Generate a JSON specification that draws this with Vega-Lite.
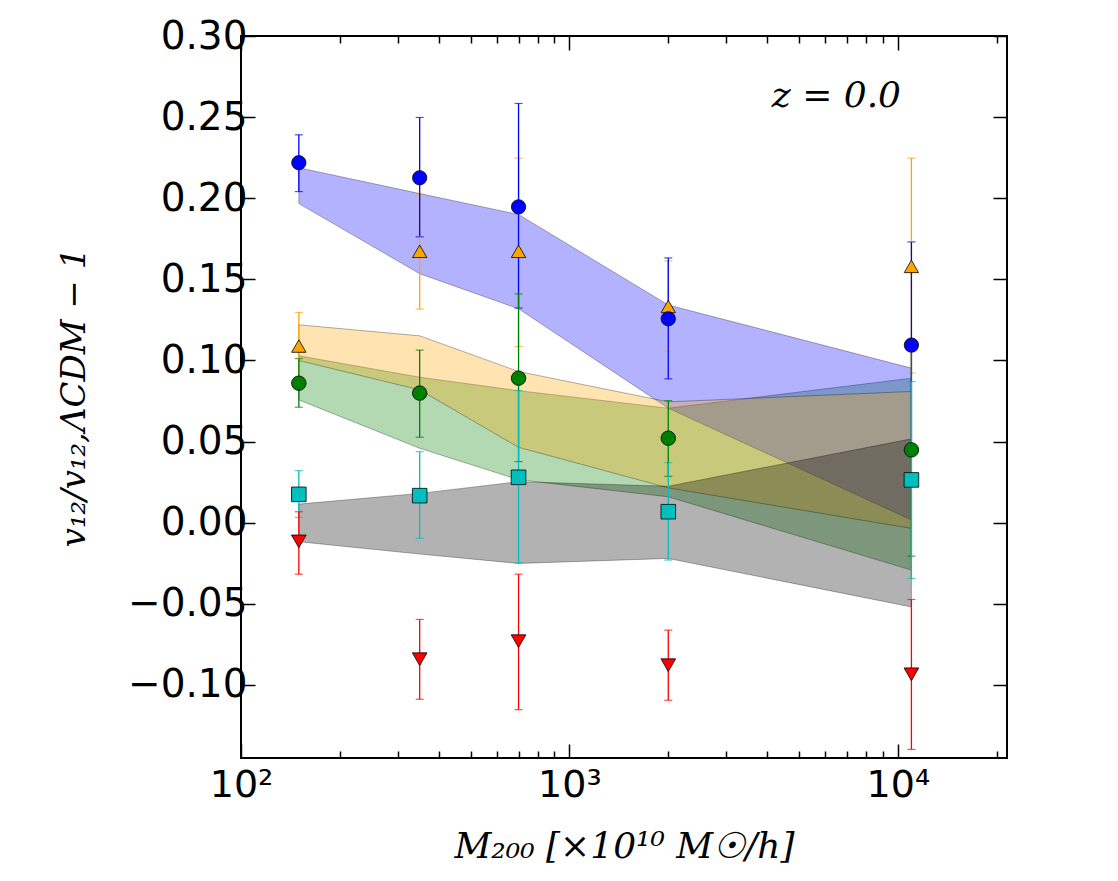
{
  "$schema": "https://vega.github.io/schema/vega-lite/v6.json",
  "width": 766,
  "height": 722,
  "autosize": {"type": "none"},
  "padding": {"left": 241, "top": 36, "right": 111, "bottom": 123},
  "background": "white",
  "config": {
    "view": {"stroke": "black", "strokeWidth": 2},
    "axis": {"grid": false, "domain": false, "tickColor": "black", "tickWidth": 1.5, "labelColor": "black", "titleColor": "black"}
  },
  "datasets": {
    "bands": [
      {"band": "green", "m": 150, "lo": 0.0757, "hi": 0.1029},
      {"band": "green", "m": 350, "lo": 0.0459, "hi": 0.0897},
      {"band": "green", "m": 700, "lo": 0.0265, "hi": 0.0814},
      {"band": "green", "m": 2000, "lo": 0.0160, "hi": 0.0706},
      {"band": "green", "m": 11000, "lo": -0.0292, "hi": 0.0891},
      {"band": "blue", "m": 150, "lo": 0.1967, "hi": 0.2188},
      {"band": "blue", "m": 350, "lo": 0.1535, "hi": 0.2029},
      {"band": "blue", "m": 700, "lo": 0.1319, "hi": 0.1900},
      {"band": "blue", "m": 2000, "lo": 0.0706, "hi": 0.1342},
      {"band": "blue", "m": 11000, "lo": 0.0017, "hi": 0.0953},
      {"band": "orange", "m": 150, "lo": 0.1000, "hi": 0.1220},
      {"band": "orange", "m": 350, "lo": 0.0819, "hi": 0.1152},
      {"band": "orange", "m": 700, "lo": 0.0465, "hi": 0.0932},
      {"band": "orange", "m": 2000, "lo": 0.0215, "hi": 0.0745},
      {"band": "orange", "m": 11000, "lo": -0.0035, "hi": 0.0809},
      {"band": "gray", "m": 150, "lo": -0.0117, "hi": 0.0115},
      {"band": "gray", "m": 350, "lo": -0.0193, "hi": 0.0181},
      {"band": "gray", "m": 700, "lo": -0.0251, "hi": 0.0253},
      {"band": "gray", "m": 2000, "lo": -0.0220, "hi": 0.0225},
      {"band": "gray", "m": 11000, "lo": -0.0519, "hi": 0.0517}
    ],
    "pts": [
      {"s": "orange", "m": 150, "v": 0.1089, "lo": 0.0895, "hi": 0.1296},
      {"s": "orange", "m": 350, "v": 0.1673, "lo": 0.1317, "hi": 0.2025},
      {"s": "orange", "m": 700, "v": 0.1673, "lo": 0.1086, "hi": 0.2247},
      {"s": "orange", "m": 2000, "v": 0.1333, "lo": 0.1058, "hi": 0.1614},
      {"s": "orange", "m": 11000, "v": 0.1580, "lo": 0.0922, "hi": 0.2247},
      {"s": "blue", "m": 150, "v": 0.2219, "lo": 0.2041, "hi": 0.2391},
      {"s": "blue", "m": 350, "v": 0.2126, "lo": 0.1762, "hi": 0.2498},
      {"s": "blue", "m": 700, "v": 0.1947, "lo": 0.1323, "hi": 0.2584},
      {"s": "blue", "m": 2000, "v": 0.1257, "lo": 0.0887, "hi": 0.1632},
      {"s": "blue", "m": 11000, "v": 0.1095, "lo": 0.0470, "hi": 0.1731},
      {"s": "green", "m": 150, "v": 0.0860, "lo": 0.0712, "hi": 0.1012},
      {"s": "green", "m": 350, "v": 0.0799, "lo": 0.0527, "hi": 0.1064},
      {"s": "green", "m": 700, "v": 0.0891, "lo": 0.0377, "hi": 0.1410},
      {"s": "green", "m": 2000, "v": 0.0521, "lo": 0.0286, "hi": 0.0753},
      {"s": "green", "m": 11000, "v": 0.0449, "lo": -0.0206, "hi": 0.1100},
      {"s": "cyan", "m": 150, "v": 0.0175, "lo": 0.0033, "hi": 0.0321},
      {"s": "cyan", "m": 350, "v": 0.0167, "lo": -0.0096, "hi": 0.0438},
      {"s": "cyan", "m": 700, "v": 0.0280, "lo": -0.0247, "hi": 0.0815},
      {"s": "cyan", "m": 2000, "v": 0.0068, "lo": -0.0230, "hi": 0.0370},
      {"s": "cyan", "m": 11000, "v": 0.0264, "lo": -0.0343, "hi": 0.0870},
      {"s": "red", "m": 150, "v": -0.0115, "lo": -0.0317, "hi": 0.0068},
      {"s": "red", "m": 350, "v": -0.0841, "lo": -0.1088, "hi": -0.0596},
      {"s": "red", "m": 700, "v": -0.0730, "lo": -0.1152, "hi": -0.0317},
      {"s": "red", "m": 2000, "v": -0.0878, "lo": -0.1094, "hi": -0.0662},
      {"s": "red", "m": 11000, "v": -0.0934, "lo": -0.1397, "hi": -0.0473}
    ],
    "label": [{"t": "z = 0.0"}]
  },
  "resolve": {"axis": {"x": "independent", "y": "independent"}},
  "layer": [
    {
      "data": {"name": "bands"},
      "transform": [{"filter": "datum.band == 'green'"}],
      "mark": {"type": "area", "fill": "#008000", "fillOpacity": 0.3, "stroke": "black", "strokeOpacity": 0.3, "strokeWidth": 1},
      "encoding": {
        "x": {"field": "m", "type": "quantitative",
          "scale": {"type": "log", "domain": [100, 21500], "nice": false},
          "axis": {"orient": "bottom",
            "values": [100, 200, 300, 400, 500, 600, 700, 800, 900, 1000, 2000, 3000, 4000, 5000, 6000, 7000, 8000, 9000, 10000, 20000],
            "labelExpr": "datum.value == 100 ? '10²' : datum.value == 1000 ? '10³' : datum.value == 10000 ? '10⁴' : ''",
            "tickSize": {"condition": {"test": "datum.value == 100 || datum.value == 1000 || datum.value == 10000", "value": -14}, "value": -7},
            "labelFont": "DejaVu Sans", "labelFontSize": 38, "labelPadding": 22, "labelFlush": false, "labelOverlap": false,
            "title": "M₂₀₀ [×10¹⁰ M☉/h]", "titleFont": "DejaVu Serif", "titleFontSize": 36, "titleFontStyle": "italic", "titleFontWeight": "normal", "titlePadding": 18}},
        "y": {"field": "lo", "type": "quantitative",
          "scale": {"domain": [-0.145, 0.30], "nice": false, "zero": false},
          "axis": {"orient": "left",
            "values": [-0.10, -0.05, 0, 0.05, 0.10, 0.15, 0.20, 0.25, 0.30],
            "format": ".2f", "tickSize": -14,
            "labelFont": "DejaVu Sans", "labelFontSize": 39, "labelPadding": 8, "labelFlush": false, "labelOverlap": false,
            "title": "v₁₂/v₁₂,ΛCDM − 1", "titleFont": "DejaVu Serif", "titleFontSize": 34, "titleFontStyle": "italic", "titleFontWeight": "normal", "titlePadding": 36}},
        "y2": {"field": "hi"}
      }
    },
    {
      "data": {"name": "bands"},
      "transform": [{"filter": "datum.band == 'blue'"}],
      "mark": {"type": "area", "fill": "#0000ff", "fillOpacity": 0.3, "stroke": "black", "strokeOpacity": 0.3, "strokeWidth": 1},
      "encoding": {
        "x": {"field": "m", "type": "quantitative",
          "axis": {"orient": "top",
            "values": [100, 200, 300, 400, 500, 600, 700, 800, 900, 1000, 2000, 3000, 4000, 5000, 6000, 7000, 8000, 9000, 10000, 20000],
            "labels": false, "title": null,
            "tickSize": {"condition": {"test": "datum.value == 100 || datum.value == 1000 || datum.value == 10000", "value": -14}, "value": -7}}},
        "y": {"field": "lo", "type": "quantitative",
          "axis": {"orient": "right", "values": [-0.10, -0.05, 0, 0.05, 0.10, 0.15, 0.20, 0.25, 0.30], "labels": false, "title": null, "tickSize": -14}},
        "y2": {"field": "hi"}
      }
    },
    {
      "data": {"name": "bands"},
      "transform": [{"filter": "datum.band == 'orange'"}],
      "mark": {"type": "area", "fill": "#ffa500", "fillOpacity": 0.3, "stroke": "black", "strokeOpacity": 0.3, "strokeWidth": 1},
      "encoding": {
        "x": {"field": "m", "type": "quantitative", "axis": null},
        "y": {"field": "lo", "type": "quantitative", "axis": null},
        "y2": {"field": "hi"}
      }
    },
    {
      "data": {"name": "bands"},
      "transform": [{"filter": "datum.band == 'gray'"}],
      "mark": {"type": "area", "fill": "black", "fillOpacity": 0.3, "stroke": "black", "strokeOpacity": 0.3, "strokeWidth": 1},
      "encoding": {
        "x": {"field": "m", "type": "quantitative", "axis": null},
        "y": {"field": "lo", "type": "quantitative", "axis": null},
        "y2": {"field": "hi"}
      }
    },
    {
      "data": {"name": "pts"},
      "mark": {"type": "errorbar", "ticks": {"size": 8, "thickness": 1.2}, "thickness": 1.3},
      "encoding": {
        "x": {"field": "m", "type": "quantitative", "axis": null},
        "y": {"field": "lo", "type": "quantitative", "axis": null},
        "y2": {"field": "hi"},
        "color": {"field": "s", "type": "nominal", "legend": null,
          "scale": {"domain": ["blue", "orange", "green", "cyan", "red"], "range": ["#0000ff", "#ffa500", "#008000", "#00bfbf", "#ff0000"]}}
      }
    },
    {
      "data": {"name": "pts"},
      "mark": {"type": "point", "filled": true, "stroke": "black", "strokeWidth": 0.8, "opacity": 1, "fillOpacity": 1},
      "encoding": {
        "x": {"field": "m", "type": "quantitative", "axis": null},
        "y": {"field": "v", "type": "quantitative", "axis": null},
        "color": {"field": "s", "type": "nominal", "legend": null},
        "shape": {"field": "s", "type": "nominal", "legend": null,
          "scale": {"domain": ["blue", "orange", "green", "cyan", "red"], "range": ["circle", "triangle-up", "circle", "square", "triangle-down"]}},
        "size": {"field": "s", "type": "nominal", "legend": null,
          "scale": {"domain": ["blue", "orange", "green", "cyan", "red"], "range": [205, 216, 205, 205, 216]}}
      }
    },
    {
      "data": {"name": "label"},
      "mark": {"type": "text", "font": "DejaVu Serif", "fontSize": 36, "fontStyle": "italic", "align": "center", "baseline": "alphabetic", "color": "black"},
      "encoding": {
        "x": {"datum": 6500, "type": "quantitative", "axis": null},
        "y": {"datum": 0.256, "type": "quantitative", "axis": null},
        "text": {"field": "t"}
      }
    }
  ]
}
